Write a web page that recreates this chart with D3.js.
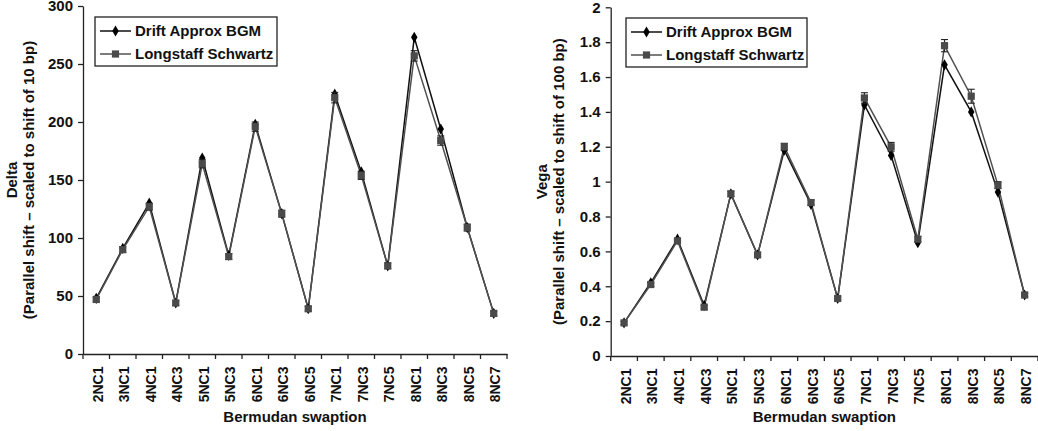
<!DOCTYPE html>
<html>
<head>
<meta charset="utf-8">
<script src="https://cdn.jsdelivr.net/npm/d3@7"></script>
<style>
  html, body { margin: 0; padding: 0; background: #fff; }
  svg { display: block; }
  text { font-family: "Liberation Sans", Arial, sans-serif; font-weight: bold; fill: #111; }
</style>
</head>
<body>
<svg id="chart" width="1038" height="431"></svg>
<script>
const categories = ["2NC1","3NC1","4NC1","4NC3","5NC1","5NC3","6NC1","6NC3","6NC5","7NC1","7NC3","7NC5","8NC1","8NC3","8NC5","8NC7"];
const seriesNames = ["Drift Approx BGM", "Longstaff Schwartz"];

const deltaDrift = [48, 91, 130, 44, 169, 85, 198, 121, 39, 224, 157, 76, 273, 194, 109, 35];
const deltaLS    = [47, 90, 127, 44, 164, 84, 196, 121, 39, 221, 154, 76, 257, 184, 109, 35];
const deltaLSErr = [2, 2.5, 3, 2, 3.5, 2.5, 4, 3, 2, 4.5, 3.5, 2.5, 4.5, 4, 3, 2];
const deltaTicks = [0, 50, 100, 150, 200, 250, 300];

const vegaDrift = [0.19, 0.42, 0.67, 0.29, 0.93, 0.58, 1.18, 0.87, 0.33, 1.44, 1.15, 0.65, 1.67, 1.40, 0.94, 0.35];
const vegaLS    = [0.19, 0.41, 0.66, 0.28, 0.93, 0.58, 1.20, 0.88, 0.33, 1.48, 1.20, 0.67, 1.78, 1.49, 0.98, 0.35];
const vegaLSErr = [0.01, 0.01, 0.015, 0.01, 0.015, 0.01, 0.02, 0.015, 0.01, 0.03, 0.025, 0.015, 0.035, 0.04, 0.02, 0.01];
const vegaTicks = [0, 0.2, 0.4, 0.6, 0.8, 1, 1.2, 1.4, 1.6, 1.8, 2];

const svg = d3.select("#chart");
const FONT = '"Liberation Sans", Arial, sans-serif';

function drawPanel(cfg) {
  const g = svg.append("g");
  const x = d3.scaleBand().domain(categories).range([cfg.left, cfg.right]);
  const y = d3.scaleLinear().domain(cfg.domain).range([cfg.bottom, cfg.top]);

  // Y axis
  const yAxis = d3.axisLeft(y).tickValues(cfg.ticks).tickSize(5).tickSizeOuter(0).tickPadding(5)
    .tickFormat(cfg.fmt);
  const ya = g.append("g").attr("transform", `translate(${cfg.left},0)`).call(yAxis);
  ya.selectAll("text").style("font-size", "15px").style("font-family", FONT).style("font-weight", "bold").attr("fill", "#111");
  ya.selectAll("line, path").attr("stroke", "#222").attr("stroke-width", 1.3);

  // X axis
  const xAxis = d3.axisBottom(x).tickSize(0).tickSizeOuter(0).tickPadding(0);
  const xa = g.append("g").attr("transform", `translate(0,${cfg.bottom})`).call(xAxis);
  xa.selectAll("path").attr("stroke", "#222").attr("stroke-width", 1.3);
  const bounds = categories.map(c => x(c)).concat([x(categories[categories.length-1]) + x.bandwidth()]);
  xa.selectAll("line.bt").data(bounds).enter().append("line").attr("class","bt")
    .attr("x1", d => d).attr("x2", d => d).attr("y1", 0).attr("y2", 5)
    .attr("stroke", "#222").attr("stroke-width", 1.3);
  xa.selectAll(".tick text")
    .style("font-size", "14px").style("font-family", FONT).style("font-weight", "bold").attr("fill", "#111")
    .attr("text-anchor", "end")
    .attr("dy", "0.36em")
    .attr("transform", "translate(1.5,12.5) rotate(-90)")
    .attr("x", 0).attr("y", 0);

  // X axis title
  g.append("text").attr("x", (cfg.left + cfg.right) / 2).attr("y", 422)
    .attr("text-anchor", "middle").style("font-size", "15px").text("Bermudan swaption");

  // Y axis title (two lines)
  const cy = (cfg.top + cfg.bottom) / 2;
  g.append("text").attr("transform", `translate(${cfg.titleX},${cy}) rotate(-90)`)
    .attr("text-anchor", "middle").style("font-size", "15px").text(cfg.title1);
  g.append("text").attr("transform", `translate(${cfg.titleX + 16.5},${cy}) rotate(-90)`)
    .attr("text-anchor", "middle").style("font-size", "15px").text(cfg.title2);

  const cx = c => x(c) + x.bandwidth() / 2;
  const line = d3.line().x(d => cx(d.c)).y(d => y(d.v));
  const dData = categories.map((c, i) => ({c, v: cfg.drift[i]}));
  const lData = categories.map((c, i) => ({c, v: cfg.ls[i], e: cfg.err[i]}));

  g.append("path").datum(dData).attr("d", line).attr("fill", "none")
    .attr("stroke", "#111").attr("stroke-width", 1.5);
  g.append("path").datum(lData).attr("d", line).attr("fill", "none")
    .attr("stroke", "#505050").attr("stroke-width", 1.5);

  const diamond = d3.symbol().type(d3.symbolDiamond).size(36);
  const square = d3.symbol().type(d3.symbolSquare).size(52);

  g.selectAll("path.dm").data(dData).enter().append("path").attr("class", "dm")
    .attr("d", diamond).attr("transform", d => `translate(${cx(d.c)},${y(d.v)})`)
    .attr("fill", "#000");

  const eb = g.selectAll("g.eb").data(lData).enter().append("g").attr("class", "eb");
  eb.append("line").attr("x1", d => cx(d.c)).attr("x2", d => cx(d.c))
    .attr("y1", d => y(d.v - d.e)).attr("y2", d => y(d.v + d.e)).attr("stroke", "#222").attr("stroke-width", 1.2);
  eb.append("line").attr("x1", d => cx(d.c) - 3.5).attr("x2", d => cx(d.c) + 3.5)
    .attr("y1", d => y(d.v - d.e)).attr("y2", d => y(d.v - d.e)).attr("stroke", "#222").attr("stroke-width", 1.1);
  eb.append("line").attr("x1", d => cx(d.c) - 3.5).attr("x2", d => cx(d.c) + 3.5)
    .attr("y1", d => y(d.v + d.e)).attr("y2", d => y(d.v + d.e)).attr("stroke", "#222").attr("stroke-width", 1.1);

  g.selectAll("path.sq").data(lData).enter().append("path").attr("class", "sq")
    .attr("d", square).attr("transform", d => `translate(${cx(d.c)},${y(d.v)})`)
    .attr("fill", "#4a4a4a");

  // Legend
  const lg = g.append("g").attr("transform", `translate(${cfg.legX},${cfg.legY})`);
  lg.append("rect").attr("x", 0).attr("y", 0).attr("width", cfg.legW).attr("height", 49)
    .attr("fill", "#fff").attr("stroke", "#222").attr("stroke-width", 1.3);
  const rows = [{name: seriesNames[0], col: "#111", sym: diamond, fill: "#000"},
                {name: seriesNames[1], col: "#505050", sym: square, fill: "#4a4a4a"}];
  rows.forEach((r, i) => {
    const ry = 14 + i * 23;
    lg.append("line").attr("x1", 5).attr("x2", 36).attr("y1", ry).attr("y2", ry)
      .attr("stroke", r.col).attr("stroke-width", 1.5);
    lg.append("path").attr("d", r.sym).attr("transform", `translate(20.5,${ry})`).attr("fill", r.fill);
    lg.append("text").attr("x", 40).attr("y", ry).attr("dy", "0.36em")
      .style("font-size", "15px").text(r.name);
  });
}

drawPanel({
  left: 83, right: 507, top: 6, bottom: 354, domain: [0, 300], ticks: deltaTicks,
  fmt: d3.format("d"), drift: deltaDrift, ls: deltaLS, err: deltaLSErr,
  title1: "Delta", title2: "(Parallel shift \u2013 scaled to shift of 10 bp)", titleX: 17,
  legX: 95, legY: 17, legW: 182
});

drawPanel({
  left: 610.7, right: 1038, top: 7.3, bottom: 356, domain: [0, 2], ticks: vegaTicks,
  fmt: d => String(+d.toFixed(1)), drift: vegaDrift, ls: vegaLS, err: vegaLSErr,
  title1: "Vega", title2: "(Parallel shift \u2013 scaled to shift of 100 bp)", titleX: 547,
  legX: 626, legY: 18, legW: 181
});
</script>
</body>
</html>
